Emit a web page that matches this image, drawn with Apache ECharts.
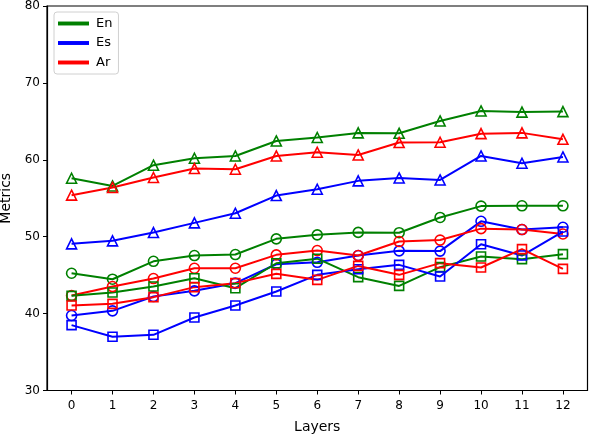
<!DOCTYPE html>
<html><head><meta charset="utf-8">
<script src="https://cdn.jsdelivr.net/npm/echarts@6/dist/echarts.min.js"></script>
<style>html,body{margin:0;padding:0;background:#fff}#c{width:590px;height:434px}</style>
</head><body><div id="c"></div>
<script>
const layers = [0,1,2,3,4,5,6,7,8,9,10,11,12];
const yTicks = [30,40,50,60,70,80];
const enTri = [57.6,56.6,59.3,60.2,60.5,62.45,62.9,63.5,63.45,65.05,66.35,66.2,66.27];
const esTri = [49.07,49.46,50.54,51.8,53.05,55.35,56.17,57.26,57.64,57.38,60.5,59.55,60.37];
const arTri = [55.4,56.4,57.7,58.86,58.77,60.5,60.98,60.63,62.24,62.28,63.4,63.5,62.67];
const enCir = [45.25,44.47,46.8,47.55,47.68,49.72,50.24,50.56,50.52,52.5,53.98,54.02,54.02];
const esCir = [39.75,40.36,42.22,42.96,43.96,46.42,46.67,47.55,48.16,48.13,52.0,50.93,51.23];
const arCir = [42.35,43.52,44.56,45.9,45.9,47.64,48.2,47.55,49.37,49.56,51.05,50.93,50.35];
const enSq = [42.31,42.74,43.52,44.6,43.3,46.55,47.14,44.74,43.6,46.04,47.42,47.08,47.73];
const esSq = [38.5,36.98,37.24,39.49,41.05,42.87,45.04,45.77,46.34,44.82,49.02,47.55,50.67];
const arSq = [41.05,41.27,42.14,43.44,43.96,45.17,44.39,46.2,45.04,46.56,45.99,48.38,45.82];
const langs = ['En','Es','Ar'];
const colors = {En:'#008000', Es:'#0000ff', Ar:'#ff0000'};
const groups = [
  {lang:'En', sym:'triangle', data:enTri},
  {lang:'Es', sym:'triangle', data:esTri},
  {lang:'Ar', sym:'triangle', data:arTri},
  {lang:'En', sym:'circle', data:enCir},
  {lang:'Es', sym:'circle', data:esCir},
  {lang:'Ar', sym:'circle', data:arCir},
  {lang:'En', sym:'rect', data:enSq},
  {lang:'Es', sym:'rect', data:esSq},
  {lang:'Ar', sym:'rect', data:arSq}
];
const series = groups.map(g => ({
  name: g.lang, type:'line',
  data: layers.map((x,i)=>[x,g.data[i]]),
  symbol: g.sym, symbolSize: g.sym==='rect'?9:10,
  showSymbol:true,
  lineStyle:{color:colors[g.lang], width:2},
  itemStyle:{color:'rgba(255,255,255,0)', borderColor:colors[g.lang], borderWidth:1.6, opacity:1},
  emphasis:{disabled:true},
  animation:false
}));
const chart = echarts.init(document.getElementById('c'), null, {renderer:'canvas'});
chart.setOption({
  animation:false,
  backgroundColor:'#fff',
  textStyle:{fontFamily:'DejaVu Sans'},
  grid:{left:47, right:2.5, top:6, bottom:43.5, show:true, borderColor:'#000', borderWidth:1.2, containLabel:false, outerBoundsMode:'none'},
  legend:{
    data: langs.map(l=>({name:l, itemStyle:{color:colors[l]}})),
    orient:'vertical', left:54, top:12,
    icon:'path://M0,0 L30,0 L30,2 L0,2 Z', itemWidth:29, itemHeight:2, itemGap:6.5,
    textStyle:{fontSize:13, color:'#000', fontFamily:'DejaVu Sans', padding:[0,0,0,3]},
    backgroundColor:'rgba(255,255,255,0.8)', borderColor:'#d0d0d0', borderWidth:1, borderRadius:3,
    padding:[5,6,5,4], selectedMode:false
  },
  xAxis:{
    type:'value', min:-0.6, max:12.6,
    name:'Layers', nameLocation:'middle', nameGap:30,
    nameTextStyle:{fontSize:14, color:'#000'},
    axisLine:{show:true, onZero:false, lineStyle:{color:'#000', width:1.2}},
    axisTick:{show:true, length:4, lineStyle:{color:'#000'}, customValues:layers},
    axisLabel:{fontSize:12, color:'#000', margin:9, customValues:layers},
    splitLine:{show:false}
  },
  yAxis:{
    type:'value', min:30, max:80, interval:10,
    name:'Metrics', nameLocation:'middle', nameGap:30,
    nameTextStyle:{fontSize:14, color:'#000'},
    axisLine:{show:true, onZero:false, lineStyle:{color:'#000', width:1.2}},
    axisTick:{show:true, length:4, lineStyle:{color:'#000'}, customValues:yTicks},
    axisLabel:{fontSize:12, color:'#000', margin:7, customValues:yTicks},
    splitLine:{show:false}
  },
  series: series
});
</script></body></html>
